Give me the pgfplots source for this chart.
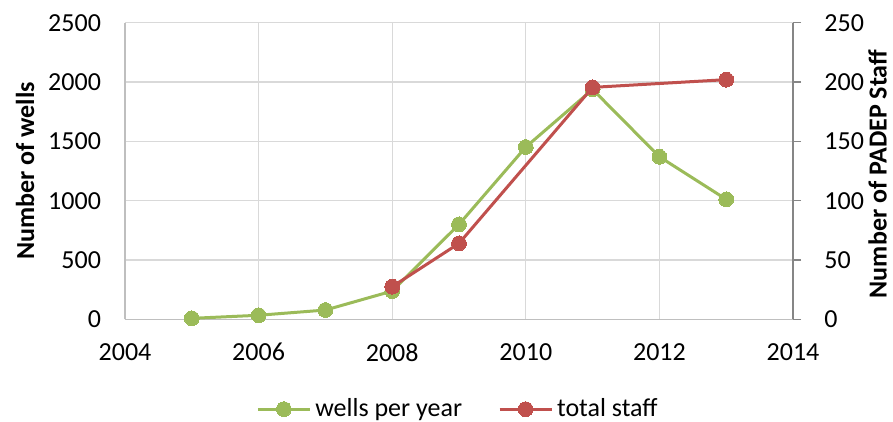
\documentclass[border=0pt]{standalone}
\usepackage{fontspec}
\setmainfont{Carlito}
\usepackage{pgfplots}
\pgfplotsset{compat=1.18}
\definecolor{cgreen}{HTML}{9BBB59}
\definecolor{cred}{HTML}{C0504D}
\definecolor{cgrid}{HTML}{D9D9D9}
\definecolor{caxis}{HTML}{BFBFBF}
\definecolor{craxis}{HTML}{868686}
\begin{document}
\begin{tikzpicture}
\pgfplotsset{
  every axis/.append style={
    scale only axis, width=334pt, height=148.3pt,
    xmin=2004, xmax=2014,
    font=\fontsize{13}{15}\selectfont,
    /pgf/number format/assume math mode=true,
    /pgf/number format/1000 sep={},
  },
  greenstyle/.style={color=cgreen, line width=1.5pt, mark=*, mark size=3.7pt, mark options={fill=cgreen, draw=cgreen, line width=0pt}},
  redstyle/.style={color=cred, line width=1.5pt, mark=*, mark size=3.7pt, mark options={fill=cred, draw=cred, line width=0pt}},
}
\begin{axis}[
  name=main,
  ymin=0, ymax=2500,
  xtick={2004,2006,...,2014},
  ytick={0,500,...,2500},
  grid=major,
  major grid style={cgrid, line width=0.6pt},
  axis x line*=bottom, axis y line*=left,
  axis line style={caxis, line width=0.7pt},
  major tick length=0pt,
  xticklabel style={yshift=-8.5pt},
  yticklabel style={xshift=-8.5pt},
  ylabel={\bfseries Number of wells},
  ylabel style={at={(axis description cs:-0.1497,0.5)}, anchor=center},
]
\addplot[greenstyle] coordinates {
(2005,8) (2006,34) (2007,78) (2008,238) (2009,800) (2010,1452) (2011,1938) (2012,1370) (2013,1011)
};
\end{axis}
\begin{axis}[
  ymin=0, ymax=250,
  ytick={0,50,...,250},
  axis x line=none,
  axis y line*=right,
  axis line style={craxis, line width=0.7pt},
  y tick style={craxis, line width=0.7pt},
  tick align=outside,
  major tick length=4pt,
  yticklabel style={xshift=8.2pt},
  ylabel={\bfseries Number of PADEP Staff},
  ylabel style={at={(axis description cs:1.1265,0.49)}, anchor=center},
  legend columns=2,
  legend style={at={(axis description cs:0.5,-0.303)}, anchor=center, draw=none, fill=none,
    font=\fontsize{13}{15}\selectfont,
    /tikz/every even column/.append style={column sep=16pt}},
  legend image code/.code={\draw[#1, mark repeat=2, mark phase=2] plot coordinates {(0pt,0pt) (13pt,0pt) (26pt,0pt)};},
]
\addlegendimage{greenstyle}
\addlegendentry{wells per year}
\addplot[redstyle] coordinates {
(2008,27.5) (2009,64) (2011,195.5) (2013,202)
};
\addlegendentry{total staff}
\end{axis}
\pgfresetboundingbox
\path ([shift={(-62.5pt,-51.35pt)}]main.south west) rectangle ([shift={(384pt,159.65pt)}]main.south west);
\end{tikzpicture}
\end{document}
